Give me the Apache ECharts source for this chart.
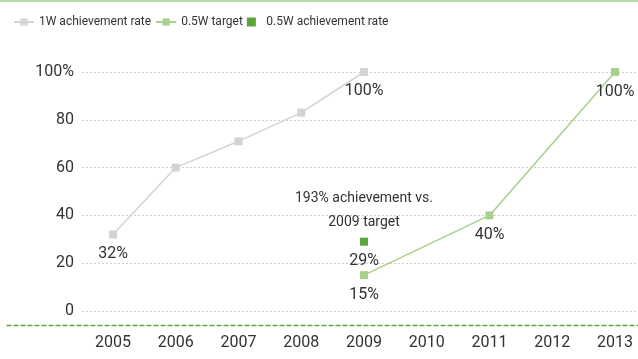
<!DOCTYPE html>
<html>
<head>
<meta charset="utf-8">
<script src="https://cdn.jsdelivr.net/npm/echarts@6/dist/echarts.min.js"></script>
<style>
  html, body { margin: 0; padding: 0; background: #fff; }
  #chart { width: 638px; height: 359px; }
</style>
</head>
<body>
<div id="chart"></div>
<script>
// Years on the horizontal axis
const years = ['2005', '2006', '2007', '2008', '2009', '2010', '2011', '2012', '2013'];
// 1W achievement rate (%)
const rate1W = [32, 60, 71, 83, 100, null, null, null, null];
// 0.5W target (%)
const target05W = [null, null, null, null, 15, null, 40, null, 100];
// 0.5W achievement rate (%)
const rate05W = [null, null, null, null, 29, null, null, null, null];
// Which points carry a value label
const label1W = [true, false, false, false, true, false, false, false, false];
// Value-axis ticks
const yMin = 0, yMax = 100, yStep = 20;
const noteText = '193% achievement vs.\n2009 target';

const FONT = 'Roboto, "Liberation Sans", sans-serif';
const TEXT = '#333333';
const GRAY = '#d3d3d5';
const LIGHT_GREEN = '#a8d08d';
const DARK_GREEN = '#5ea63b';

function labelled(values, flags) {
  return values.map((v, i) => ({
    value: v,
    label: { show: v != null && (!flags || flags[i]) }
  }));
}

const PLOT_TOP = 72, PLOT_BOTTOM = 48;

const chart = echarts.init(document.getElementById('chart'), null, { renderer: 'canvas' });

chart.setOption({
  animation: false,
  textStyle: { fontFamily: FONT },
  graphic: [{
    type: 'line',
    shape: { x1: 0, y1: 1, x2: 638, y2: 1 },
    style: { stroke: '#9fcc86', lineWidth: 1.5 }
  }],
  legend: {
    left: 8,
    top: 11,
    itemWidth: 20,
    itemHeight: 9,
    itemGap: 4,
    textStyle: { fontFamily: FONT, fontSize: 12, color: TEXT },
    data: [
      { name: '1W achievement rate' },
      { name: '0.5W target' },
      { name: '0.5W achievement rate', icon: 'path://M0 0H1V1H0Z' }
    ]
  },
  grid: [
    // 0: the plotted series
    { left: 113, right: 23, top: PLOT_TOP, bottom: PLOT_BOTTOM },
    // 1: value labels and dotted guide lines across the full width
    { left: 82, right: 0, top: PLOT_TOP, bottom: PLOT_BOTTOM },
    // 2: dashed baseline running nearly edge to edge
    { left: 7, right: 0, top: PLOT_TOP, bottom: PLOT_BOTTOM }
  ],
  xAxis: [
    {
      gridIndex: 0,
      type: 'category',
      data: years,
      boundaryGap: false,
      offset: 14,
      axisLine: { show: false, onZero: false },
      axisTick: { show: false },
      splitLine: { show: false },
      axisLabel: { interval: 0, fontFamily: FONT, fontSize: 16, color: TEXT, margin: 10 }
    },
    {
      gridIndex: 1,
      type: 'category',
      data: years,
      show: false
    },
    {
      gridIndex: 2,
      type: 'category',
      data: years,
      offset: 14,
      axisLine: { show: true, onZero: false, lineStyle: { color: '#5ea63b', type: [4, 3], width: 1.3 } },
      axisTick: { show: false },
      axisLabel: { show: false },
      splitLine: { show: false }
    }
  ],
  yAxis: [
    {
      gridIndex: 0,
      type: 'value',
      min: yMin, max: yMax, interval: yStep,
      show: false,
      splitLine: { show: false }
    },
    {
      gridIndex: 1,
      type: 'value',
      min: yMin, max: yMax, interval: yStep,
      axisLine: { show: false },
      axisTick: { show: false },
      axisLabel: {
        fontFamily: FONT, fontSize: 16, color: TEXT, margin: 8,
        formatter: v => (v === yMax ? v + '%' : String(v))
      },
      splitLine: { lineStyle: { color: '#cfcfcf', type: [2, 2], width: 1 } }
    },
    {
      gridIndex: 2,
      type: 'value',
      min: yMin, max: yMax, interval: yStep,
      show: false,
      splitLine: { show: false }
    }
  ],
  series: [
    {
      name: '1W achievement rate',
      type: 'line',
      data: labelled(rate1W, label1W),
      symbol: 'rect',
      symbolSize: 8,
      itemStyle: { color: GRAY },
      lineStyle: { color: GRAY, width: 1.5 },
      label: {
        position: 'bottom', distance: 7, formatter: '{c}%',
        fontFamily: FONT, fontSize: 16, color: TEXT
      }
    },
    {
      name: '0.5W target',
      type: 'line',
      data: labelled(target05W),
      connectNulls: true,
      symbol: 'rect',
      symbolSize: 8,
      itemStyle: { color: LIGHT_GREEN },
      lineStyle: { color: LIGHT_GREEN, width: 1.5 },
      label: {
        position: 'bottom', distance: 8, formatter: '{c}%',
        fontFamily: FONT, fontSize: 16, color: TEXT
      }
    },
    {
      name: '0.5W achievement rate',
      type: 'scatter',
      data: labelled(rate05W),
      symbol: 'rect',
      symbolSize: 8,
      itemStyle: { color: DARK_GREEN, opacity: 1 },
      label: {
        position: 'bottom', distance: 7, formatter: '{c}%',
        fontFamily: FONT, fontSize: 16, color: TEXT, opacity: 1
      },
      markPoint: {
        symbol: 'rect',
        symbolSize: 0,
        data: [{ coord: ['2009', 29], value: 29 }],
        label: {
          show: true,
          position: 'top',
          distance: 7,
          formatter: noteText,
          fontFamily: FONT, fontSize: 14, lineHeight: 24, color: TEXT, align: 'center'
        }
      }
    }
  ]
});
</script>
</body>
</html>
